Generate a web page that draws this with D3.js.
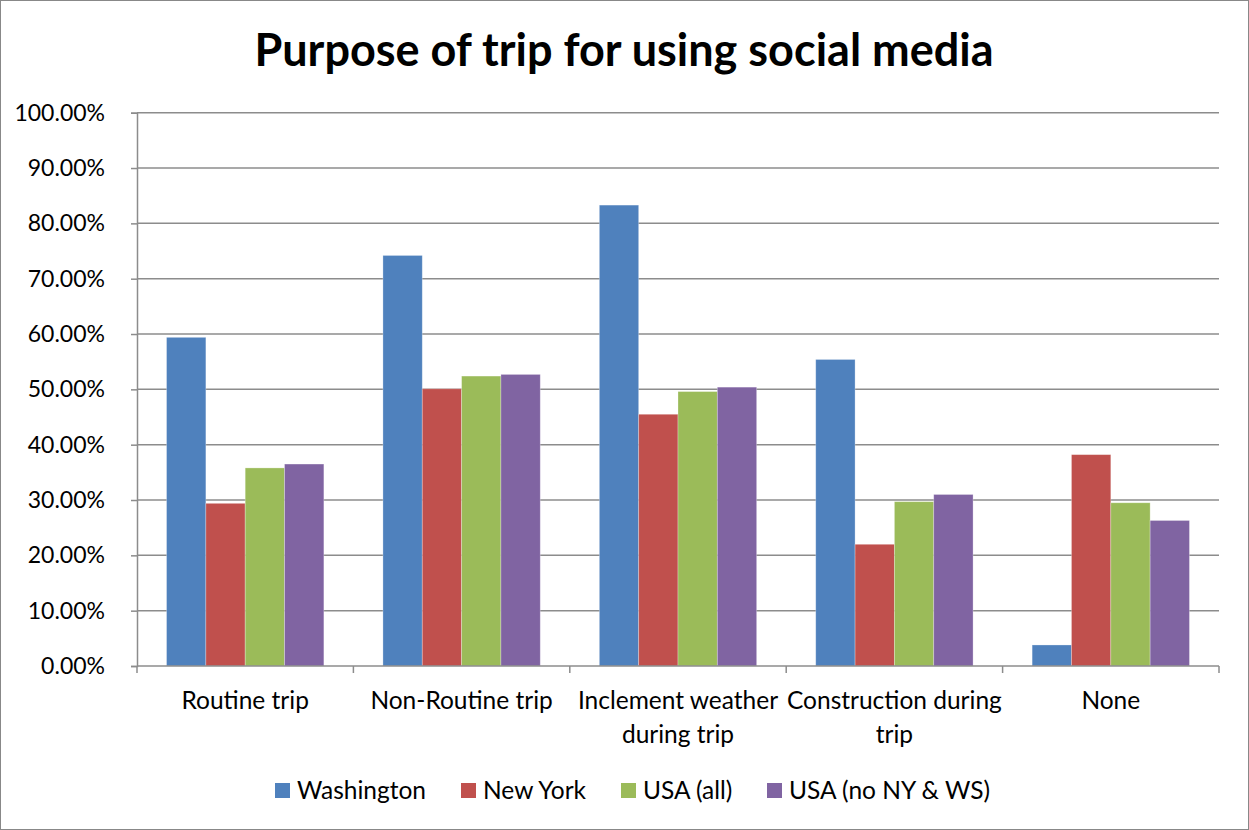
<!DOCTYPE html>
<html><head><meta charset="utf-8">
<script src="https://cdn.jsdelivr.net/npm/d3@7"></script>
<style>body{margin:0;background:#fff}svg{display:block}text{font-family:Lato,"Open Sans",sans-serif}</style>
</head><body>
<svg id="c" width="1249" height="830"></svg>
<script>
const categories = [["Routine trip"],["Non-Routine trip"],["Inclement weather","during trip"],["Construction during","trip"],["None"]];
const seriesNames = ["Washington","New York","USA (all)","USA (no NY & WS)"];
const washington = [59.4, 74.2, 83.3, 55.4, 3.8];
const newYork = [29.4, 50.1, 45.5, 22.0, 38.2];
const usaAll = [35.8, 52.4, 49.6, 29.7, 29.5];
const usaNoNyWs = [36.5, 52.7, 50.4, 31.0, 26.3];
const colors = ["#4f81bd","#c0504d","#9bbb59","#8064a2"];
const yTicks = [0,10,20,30,40,50,60,70,80,90,100];

const series = [washington, newYork, usaAll, usaNoNyWs];
const svg = d3.select("#c");
svg.append("rect").attr("x",0.5).attr("y",0.5).attr("width",1248).attr("height",829).attr("fill","#fff").attr("stroke","#888");

const L=137,R=1219,T=112.7,B=666;
const x = d3.scaleBand().domain(d3.range(categories.length)).range([L,R]).paddingInner(0.273).paddingOuter(0.1365);
const xs = d3.scaleBand().domain(d3.range(series.length)).range([0,x.bandwidth()]);
const y = d3.scaleLinear().domain([0,100]).range([B,T]);

svg.append("text").attr("x",624).attr("y",66).attr("text-anchor","middle").attr("font-size",45).attr("font-weight","bold").text("Purpose of trip for using social media");

// gridlines
svg.append("g").selectAll("line").data(yTicks.slice(1)).join("line")
  .attr("x1",L).attr("x2",R).attr("y1",d=>y(d)).attr("y2",d=>y(d)).attr("stroke","#8c8c8c").attr("stroke-width",1.5);

// y axis
const ya = svg.append("g").attr("transform",`translate(${L},0)`).call(d3.axisLeft(y).tickValues(yTicks).tickSize(6).tickPadding(26).tickFormat(d=>d.toFixed(2)+"%"));
ya.select(".domain").attr("stroke","#8c8c8c").attr("stroke-width",1.5);
ya.selectAll(".tick line").attr("stroke","#8c8c8c").attr("stroke-width",1.5);
ya.selectAll("text").attr("font-size",23).attr("fill","#000").attr("font-family","Lato");

// bars
const g = svg.append("g");
series.forEach((s,si)=>{
  g.append("g").selectAll("rect").data(s).join("rect")
   .attr("x",(d,i)=>x(i)+xs(si)).attr("width",xs.bandwidth())
   .attr("y",d=>y(d)).attr("height",d=>B-y(d))
   .attr("fill",colors[si]).attr("stroke","rgba(255,255,255,0.35)").attr("stroke-width",0.8);
});

// x axis
svg.append("line").attr("x1",L).attr("x2",R).attr("y1",B).attr("y2",B).attr("stroke","#8c8c8c").attr("stroke-width",1.5);
const step = x.step();
svg.append("g").selectAll("line").data(d3.range(categories.length+1)).join("line")
  .attr("x1",i=>L+i*step).attr("x2",i=>L+i*step).attr("y1",B).attr("y2",B+7).attr("stroke","#8c8c8c").attr("stroke-width",1.5);
svg.append("g").selectAll("text").data(categories).join("text")
  .attr("x",(d,i)=>x(i)+x.bandwidth()/2).attr("y",709).attr("text-anchor","middle").attr("font-size",24.5)
  .each(function(d){ const cx=d3.select(this).attr("x"); d3.select(this).selectAll("tspan").data(d).join("tspan").attr("x",cx).attr("dy",(t,j)=>j?34:0).text(t=>t);});

// legend
const legX=[275,461,621,767];
const lg = svg.append("g");
seriesNames.forEach((n,i)=>{
  lg.append("rect").attr("x",legX[i]).attr("y",783).attr("width",15).attr("height",15).attr("fill",colors[i]);
  lg.append("text").attr("x",legX[i]+22).attr("y",799).attr("font-size",24.5).text(n);
});
</script>
</body></html>
